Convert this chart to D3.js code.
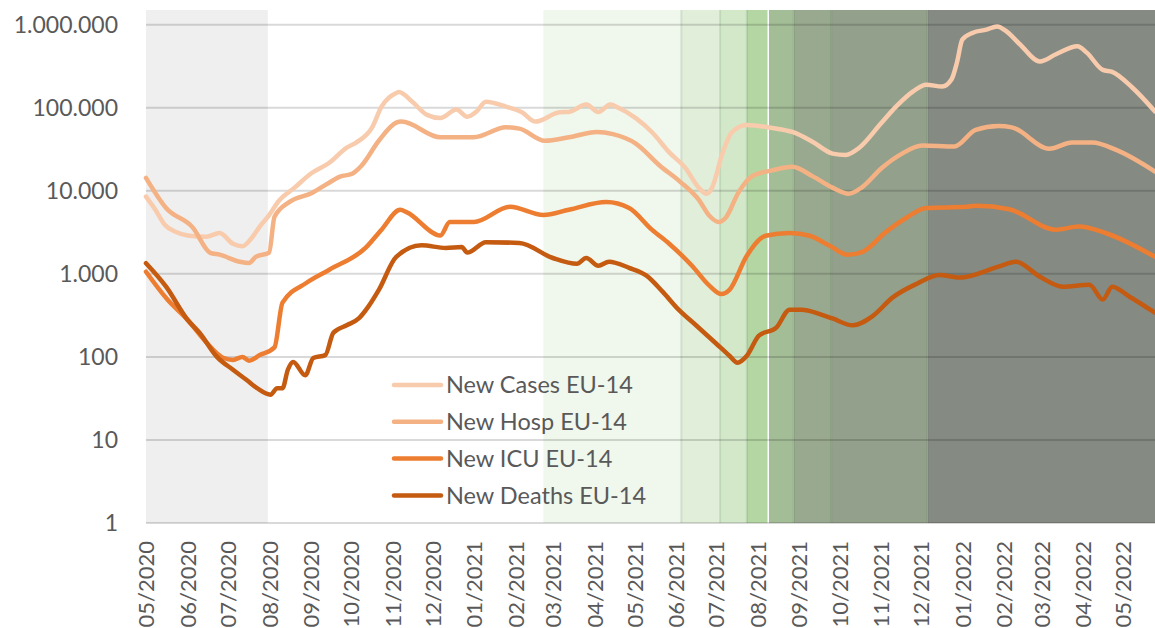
<!DOCTYPE html>
<html>
<head>
<meta charset="utf-8">
<script src="https://cdn.jsdelivr.net/npm/d3@7"></script>
<style>
  body { margin: 0; background: #fff; }
  svg { display: block; }
  text { font-family: Lato, "Open Sans", sans-serif; fill: #595959; }
</style>
</head>
<body>
<svg id="chart"></svg>
<script>
// series: [date, value]
var casesData = [
  ["2020-05-01", 8500], ["2020-05-08", 5900], ["2020-05-15", 3900], ["2020-05-23", 3200],
  ["2020-06-01", 2900], ["2020-06-15", 2800], ["2020-06-25", 3100], ["2020-07-05", 2300],
  ["2020-07-12", 2150], ["2020-07-19", 2700], ["2020-07-25", 3700], ["2020-07-31", 4850],
  ["2020-08-09", 7800], ["2020-08-20", 10900], ["2020-09-01", 16000], ["2020-09-15", 21700],
  ["2020-09-28", 33000], ["2020-10-05", 38000], ["2020-10-17", 58000], ["2020-10-24", 103000],
  ["2020-11-04", 150000], ["2020-11-06", 155000], ["2020-11-16", 118000], ["2020-11-27", 82000],
  ["2020-12-07", 75000], ["2020-12-19", 95000], ["2020-12-27", 78000], ["2021-01-03", 90000],
  ["2021-01-10", 118000], ["2021-01-25", 103000], ["2021-02-06", 88000], ["2021-02-16", 68000],
  ["2021-03-06", 88000], ["2021-03-13", 89000], ["2021-03-26", 109000], ["2021-04-04", 89000],
  ["2021-04-13", 109000], ["2021-04-19", 100000], ["2021-05-02", 75000], ["2021-05-14", 51000],
  ["2021-05-27", 29000], ["2021-06-08", 18900], ["2021-06-18", 10900], ["2021-06-24", 9200],
  ["2021-06-28", 10900], ["2021-07-06", 29000], ["2021-07-13", 51000], ["2021-07-24", 62000],
  ["2021-08-12", 57000], ["2021-08-27", 51000], ["2021-09-11", 39000], ["2021-09-26", 28000],
  ["2021-10-06", 27000], ["2021-10-16", 33000], ["2021-11-01", 64000], ["2021-11-13", 105000],
  ["2021-11-25", 156000], ["2021-12-05", 189000], ["2021-12-17", 180000], ["2021-12-24", 220000],
  ["2021-12-28", 350000], ["2022-01-01", 660000], ["2022-01-09", 800000], ["2022-01-19", 870000],
  ["2022-01-27", 950000], ["2022-02-03", 830000], ["2022-02-13", 580000], ["2022-02-28", 360000],
  ["2022-03-12", 440000], ["2022-03-28", 550000], ["2022-04-04", 460000], ["2022-04-16", 285000],
  ["2022-04-23", 270000], ["2022-05-08", 175000], ["2022-05-25", 90000]
];

var hospData = [
  ["2020-05-01", 14300], ["2020-05-16", 6200], ["2020-06-05", 3600], ["2020-06-18", 1790],
  ["2020-06-25", 1700], ["2020-07-10", 1400], ["2020-07-17", 1350], ["2020-07-22", 1600],
  ["2020-08-01", 1800], ["2020-08-05", 4850], ["2020-08-16", 7300], ["2020-09-02", 9400],
  ["2020-09-13", 12000], ["2020-09-23", 14800], ["2020-10-02", 16000], ["2020-10-09", 20000],
  ["2020-10-22", 40000], ["2020-11-04", 66000], ["2020-11-08", 68000], ["2020-12-07", 44000],
  ["2021-01-01", 44000], ["2021-01-25", 58000], ["2021-02-04", 56000], ["2021-02-23", 40000],
  ["2021-03-13", 44000], ["2021-04-03", 51000], ["2021-04-15", 48000], ["2021-05-02", 37000],
  ["2021-05-20", 20000], ["2021-06-04", 12900], ["2021-06-18", 7800], ["2021-06-26", 5000],
  ["2021-07-03", 4200], ["2021-07-08", 4700], ["2021-07-18", 9700], ["2021-07-28", 15000],
  ["2021-08-12", 17600], ["2021-08-27", 19400], ["2021-09-11", 15000], ["2021-09-26", 10900],
  ["2021-10-08", 9200], ["2021-10-18", 11000], ["2021-11-02", 18900], ["2021-11-17", 28000],
  ["2021-12-02", 35000], ["2021-12-26", 34000], ["2022-01-11", 54000], ["2022-01-28", 60000],
  ["2022-02-07", 58000], ["2022-03-07", 32000], ["2022-03-24", 38000], ["2022-04-08", 38000],
  ["2022-04-26", 31000], ["2022-05-25", 17000]
];

var icuData = [
  ["2020-05-01", 1060], ["2020-05-17", 490], ["2020-06-01", 280], ["2020-06-15", 150],
  ["2020-06-28", 97], ["2020-07-05", 92], ["2020-07-12", 100], ["2020-07-17", 90],
  ["2020-07-25", 105], ["2020-08-05", 130], ["2020-08-11", 450], ["2020-08-29", 780],
  ["2020-09-15", 1120], ["2020-10-12", 2050], ["2020-10-24", 3400], ["2020-11-07", 5900],
  ["2020-11-12", 5500], ["2020-12-07", 2900], ["2020-12-14", 4200], ["2021-01-01", 4200],
  ["2021-01-28", 6400], ["2021-02-22", 5100], ["2021-03-13", 5900], ["2021-04-10", 7300],
  ["2021-04-27", 6200], ["2021-05-14", 3400], ["2021-05-27", 2300], ["2021-06-13", 1250],
  ["2021-06-26", 720], ["2021-07-05", 570], ["2021-07-11", 640], ["2021-07-24", 1650],
  ["2021-08-07", 2870], ["2021-08-25", 3100], ["2021-09-09", 2870], ["2021-09-24", 2170],
  ["2021-10-07", 1700], ["2021-10-18", 1830], ["2021-11-05", 3200], ["2021-11-20", 4700],
  ["2021-12-05", 6200], ["2022-01-04", 6400], ["2022-01-11", 6600], ["2022-02-05", 6000],
  ["2022-03-12", 3400], ["2022-03-29", 3700], ["2022-04-18", 3100], ["2022-05-25", 1600]
];

var deathsData = [
  ["2020-05-01", 1340], ["2020-05-16", 700], ["2020-06-01", 280], ["2020-06-10", 195],
  ["2020-06-23", 100], ["2020-07-05", 70], ["2020-07-15", 53], ["2020-07-23", 42],
  ["2020-08-02", 35], ["2020-08-07", 42], ["2020-08-11", 42], ["2020-08-15", 70],
  ["2020-08-19", 87], ["2020-08-28", 60], ["2020-09-03", 97], ["2020-09-12", 105],
  ["2020-09-18", 195], ["2020-09-28", 240], ["2020-10-07", 290], ["2020-10-14", 400],
  ["2020-10-22", 640], ["2020-11-04", 1600], ["2020-11-23", 2200], ["2020-12-11", 2050],
  ["2020-12-23", 2100], ["2020-12-27", 1800], ["2021-01-10", 2400], ["2021-02-04", 2350],
  ["2021-03-01", 1550], ["2021-03-19", 1320], ["2021-03-26", 1550], ["2021-04-04", 1250],
  ["2021-04-12", 1400], ["2021-04-27", 1180], ["2021-05-10", 950], ["2021-05-22", 610],
  ["2021-06-03", 370], ["2021-06-16", 240], ["2021-07-01", 145], ["2021-07-11", 103],
  ["2021-07-17", 85], ["2021-07-24", 103], ["2021-08-02", 180], ["2021-08-15", 225],
  ["2021-08-25", 370], ["2021-09-03", 370], ["2021-09-16", 330], ["2021-09-26", 290],
  ["2021-10-11", 240], ["2021-10-26", 310], ["2021-11-10", 520], ["2021-11-28", 760],
  ["2021-12-15", 970], ["2021-12-30", 900], ["2022-01-28", 1220], ["2022-02-10", 1400],
  ["2022-02-28", 920], ["2022-03-17", 700], ["2022-04-06", 740], ["2022-04-16", 490],
  ["2022-04-23", 700], ["2022-05-06", 530], ["2022-05-25", 340]
];

var seriesNames = ["New Cases EU-14", "New Hosp EU-14", "New ICU EU-14", "New Deaths EU-14"];
var seriesColors = ["#f8cbad", "#f4b183", "#ed7d31", "#c55a11"];

// shaded periods
var bandStarts = ["2020-05-01", "2021-02-22", "2021-06-05", "2021-07-04", "2021-07-24",
                  "2021-08-09", "2021-08-28", "2021-09-25", "2021-12-06"];
var bandEnds   = ["2020-07-31", "2021-06-05", "2021-07-04", "2021-07-24", "2021-08-09",
                  "2021-08-28", "2021-09-25", "2021-12-06", "2022-05-25"];
var bandColors = ["#efefef", "#f0f7ec", "#e1eed9", "#d3e8c9", "#b4d6a3",
                  "#a3bd97", "#99a98f", "#93a08b", "#858a83"];

var yTicks = [1, 10, 100, 1000, 10000, 100000, 1000000];
var xStart = "2020-05-01", xEnd = "2022-05-25";

var width = 1155, height = 628;
var parse = d3.timeParse("%Y-%m-%d");
var locale = d3.formatLocale({ decimal: ",", thousands: ".", grouping: [3], currency: ["", ""] });
var fmt = locale.format(",d");

var svg = d3.select("#chart")
  .attr("width", width)
  .attr("height", height);

var x = d3.scaleTime()
  .domain([parse(xStart), parse(xEnd)])
  .range([146, 1155]);

var y = d3.scaleLog()
  .domain([1, 1.5e6])
  .range([523, 10]);

// bands
svg.append("g")
  .selectAll("rect")
  .data(bandStarts)
  .enter()
  .append("rect")
  .attr("x", function (d) { return x(parse(d)); })
  .attr("y", y(1.5e6))
  .attr("width", function (d, i) { return x(parse(bandEnds[i])) - x(parse(d)); })
  .attr("height", y(1) - y(1.5e6))
  .style("fill", function (d, i) { return bandColors[i]; });

// band edges
svg.append("g")
  .selectAll("line")
  .data(bandStarts.slice(2))
  .enter()
  .append("line")
  .attr("x1", function (d) { return x(parse(d)); })
  .attr("x2", function (d) { return x(parse(d)); })
  .attr("y1", y(1.5e6))
  .attr("y2", y(1))
  .style("stroke", function (d, i) { return i === 3 ? "#ffffff" : "rgba(0,60,0,0.10)"; })
  .style("stroke-width", function (d, i) { return i === 3 ? 1.5 : 2; });

// gridlines
svg.append("g")
  .selectAll("line")
  .data(yTicks)
  .enter()
  .append("line")
  .attr("x1", 146)
  .attr("x2", width)
  .attr("y1", function (d) { return y(d); })
  .attr("y2", function (d) { return y(d); })
  .style("stroke", "rgba(0,0,0,0.15)")
  .style("stroke-width", 2);

// y axis labels
var yAxis = d3.axisLeft(y)
  .tickValues(yTicks)
  .tickFormat(fmt)
  .tickSize(0)
  .tickPadding(0);

svg.append("g")
  .attr("transform", "translate(118,0)")
  .call(yAxis)
  .call(function (g) { g.select(".domain").remove(); })
  .selectAll("text")
  .style("font-size", "23px")
  .style("fill", "#595959");

// x axis labels
var xAxis = d3.axisBottom(x)
  .ticks(d3.timeMonth.every(1))
  .tickFormat(d3.timeFormat("%m/%Y"))
  .tickSize(0);

svg.append("g")
  .attr("transform", "translate(0,523)")
  .call(xAxis)
  .call(function (g) { g.select(".domain").remove(); })
  .selectAll("text")
  .style("font-size", "22px")
  .style("fill", "#595959")
  .attr("text-anchor", "end")
  .attr("transform", "rotate(-90)")
  .attr("x", -18)
  .attr("y", 0)
  .attr("dy", "0.36em");

// lines
var line = d3.line()
  .x(function (d) { return x(parse(d[0])); })
  .y(function (d) { return y(d[1]); })
  .curve(d3.curveMonotoneX);

var allSeries = [casesData, hospData, icuData, deathsData];

svg.append("g")
  .selectAll("path")
  .data(allSeries)
  .enter()
  .append("path")
  .attr("d", line)
  .style("fill", "none")
  .style("stroke", function (d, i) { return seriesColors[i]; })
  .style("stroke-width", 4.5)
  .style("stroke-linejoin", "round")
  .style("stroke-linecap", "round");

// legend
var legend = svg.append("g")
  .attr("transform", "translate(394,385)");

var items = legend.selectAll("g")
  .data(seriesNames)
  .enter()
  .append("g")
  .attr("transform", function (d, i) { return "translate(0," + (i * 36.8) + ")"; });

items.append("line")
  .attr("x1", 0)
  .attr("x2", 47)
  .style("stroke", function (d, i) { return seriesColors[i]; })
  .style("stroke-width", 4.5)
  .style("stroke-linecap", "round");

items.append("text")
  .attr("x", 52)
  .attr("dy", "0.36em")
  .style("font-size", "23.5px")
  .text(function (d) { return d; });
</script>
</body>
</html>
